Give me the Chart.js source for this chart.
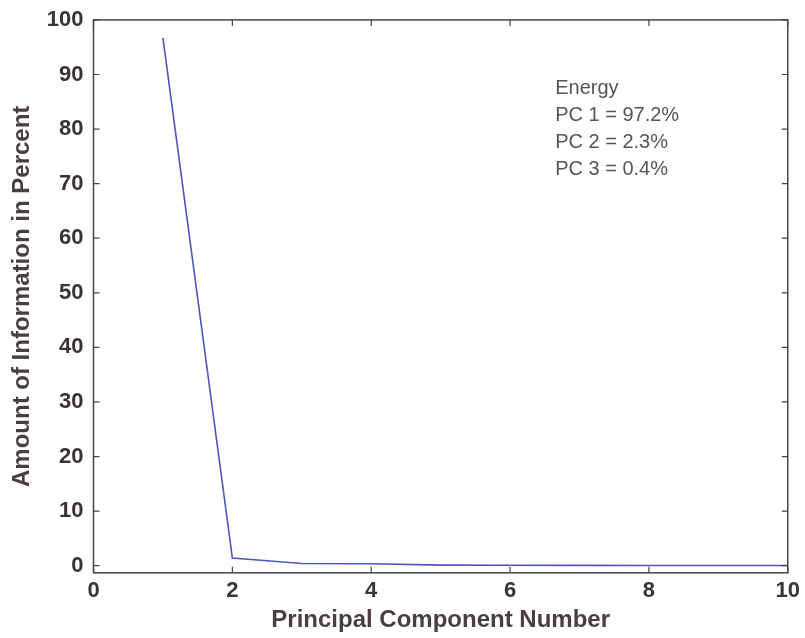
<!DOCTYPE html>
<html>
<head>
<meta charset="utf-8">
<script src="https://cdn.jsdelivr.net/npm/chart.js@4"></script>
<style>
  html, body { margin: 0; padding: 0; background: #fff; }
  #wrap { width: 805px; height: 638px; }
</style>
</head>
<body>
<div id="wrap"><canvas id="myChart" width="805" height="638"></canvas></div>
<script>
var pcNumbers = [1, 2, 3, 4, 5, 6, 7, 8, 9, 10];
var infoPercent = [96.7, 1.4, 0.4, 0.35, 0.1, 0.08, 0.06, 0.05, 0.04, 0.03];
var xTicks = [0, 2, 4, 6, 8, 10];
var yTicks = [0, 10, 20, 30, 40, 50, 60, 70, 80, 90, 100];
var energyLines = ['Energy', 'PC 1 = 97.2%', 'PC 2 = 2.3%', 'PC 3 = 0.4%'];

var points = [];
for (var i = 0; i < pcNumbers.length; i++) {
    points.push({ x: pcNumbers[i], y: infoPercent[i] });
}

var labelColor = '#3b3333';
var fontFam = '"Liberation Sans", Arial, sans-serif';

// frame round the plot + small ticks pointing inwards
var frameTicks = {
    id: 'frameTicks',
    afterDraw: function (chart) {
        var c = chart.ctx, a = chart.chartArea;
        var xs = chart.scales.x, ys = chart.scales.y;
        c.save();
        c.strokeStyle = '#444';
        c.lineWidth = 1.5;
        c.strokeRect(a.left, a.top, a.right - a.left, a.bottom - a.top);
        c.lineWidth = 1.2;
        c.beginPath();
        xTicks.forEach(function (v) {
            var px = xs.getPixelForValue(v);
            c.moveTo(px, a.bottom); c.lineTo(px, a.bottom - 6);
            c.moveTo(px, a.top); c.lineTo(px, a.top + 6);
        });
        yTicks.forEach(function (v) {
            var py = ys.getPixelForValue(v);
            c.moveTo(a.left, py); c.lineTo(a.left + 6, py);
            c.moveTo(a.right, py); c.lineTo(a.right - 6, py);
        });
        c.stroke();

        // energy note
        c.fillStyle = '#555';
        c.font = '20px ' + fontFam;
        c.textBaseline = 'middle';
        var tx = xs.getPixelForValue(6.65);
        var ty = ys.getPixelForValue(87.5);
        energyLines.forEach(function (t, k) {
            c.fillText(t, tx, ty + k * 27);
        });
        c.restore();
    }
};

var ctx = document.getElementById('myChart').getContext('2d');
var myChart = new Chart(ctx, {
    type: 'line',
    data: {
        datasets: [{
            label: 'Information',
            data: points,
            borderColor: '#5252c4',
            backgroundColor: '#5252c4',
            borderWidth: 1.6,
            pointRadius: 0,
            tension: 0
        }]
    },
    options: {
        responsive: false,
        animation: false,
        layout: { padding: { top: 1, right: 0, left: 8, bottom: 3 } },
        plugins: {
            legend: { display: false },
            tooltip: { enabled: false }
        },
        scales: {
            x: {
                type: 'linear',
                min: 0,
                max: 10,
                afterBuildTicks: function (s) {
                    s.ticks = xTicks.map(function (v) { return { value: v }; });
                },
                grid: { display: false, drawTicks: false },
                border: { display: false },
                ticks: {
                    color: labelColor,
                    padding: 5,
                    maxRotation: 0,
                    font: { family: fontFam, size: 22, weight: 'bold' }
                },
                title: {
                    display: true,
                    text: 'Principal Component Number',
                    color: '#4a3f3f',
                    padding: { top: -3, bottom: 0 },
                    font: { family: fontFam, size: 24, weight: 'bold' }
                }
            },
            y: {
                min: -1.3,
                max: 100,
                afterBuildTicks: function (s) {
                    s.ticks = yTicks.map(function (v) { return { value: v }; });
                },
                grid: { display: false, drawTicks: false },
                border: { display: false },
                ticks: {
                    color: labelColor,
                    padding: 10,
                    font: { family: fontFam, size: 22, weight: 'bold', lineHeight: 0.9 }
                },
                title: {
                    display: true,
                    text: 'Amount of Information in Percent',
                    color: '#4a3f3f',
                    padding: { top: 0, bottom: 0 },
                    font: { family: fontFam, size: 24, weight: 'bold' }
                }
            }
        }
    },
    plugins: [frameTicks]
});
</script>
</body>
</html>
